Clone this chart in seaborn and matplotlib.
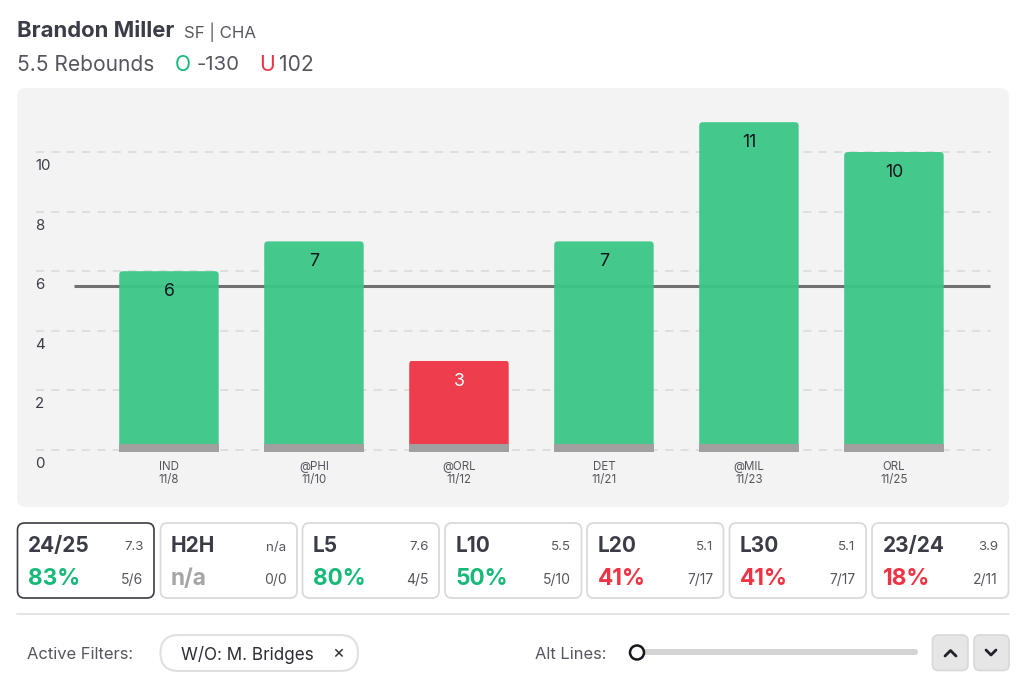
import pandas as pd
import matplotlib
matplotlib.use('Agg')
import matplotlib.pyplot as plt
import seaborn as sns
from matplotlib.patches import FancyBboxPatch, Circle

games = ['IND\n11/8', '@PHI\n11/10', '@ORL\n11/12', 'DET\n11/21', '@MIL\n11/23', 'ORL\n11/25']
rebounds = [6, 7, 3, 7, 11, 10]
prop_line = 5.5
y_ticks = [0, 2, 4, 6, 8, 10]

card_names = ['24/25', 'H2H', 'L5', 'L10', 'L20', 'L30', '23/24']
card_avgs = ['7.3', 'n/a', '7.6', '5.5', '5.1', '5.1', '3.9']
card_pcts = ['83%', 'n/a', '80%', '50%', '41%', '41%', '18%']
card_hits = ['5/6', '0/0', '4/5', '5/10', '7/17', '7/17', '2/11']

DARK = '#3b3c46'
MID = '#55565e'
GREEN = '#3cc687'
RED = '#ee3444'
GREEN_TEXT = '#17b978'

sns.set_theme(style='white')
plt.rcParams['font.family'] = ['Inter', 'DejaVu Sans']

W, H = 1024, 685
fig = plt.figure(figsize=(W / 100, H / 100), dpi=100, facecolor='white')

# page layer, in pixels
ui = fig.add_axes([0, 0, 1, 1], zorder=0)
ui.set_xlim(0, W)
ui.set_ylim(H, 0)
ui.axis('off')


def rbox(x0, y0, x1, y1, r, fc, ec='none', lw=1.5):
    ui.add_patch(FancyBboxPatch((x0 + r, y0 + r), x1 - x0 - 2 * r, y1 - y0 - 2 * r,
                                boxstyle=f'round,pad={r},rounding_size={r}',
                                fc=fc, ec=ec, lw=lw))


ui.text(17, 31, 'Brandon Miller', fontsize=15.9, fontweight='bold', color=DARK, va='center')
ui.text(184, 32, 'SF | CHA', fontsize=12.1, color=MID, va='center')
ui.text(17, 64.5, '5.5 Rebounds', fontsize=15.1, color=MID, va='center')
ui.text(175, 64.5, 'O', fontsize=15.1, color=GREEN_TEXT, va='center')
ui.text(197, 64.5, '-130', fontsize=14.7, color=MID, va='center')
ui.text(259, 64.5, 'U', fontsize=15.1, color=RED, va='center')
ui.text(279, 64.5, '102', fontsize=15.1, color=MID, va='center')

rbox(17, 88, 1009, 507, 9, '#f3f3f3')

# stat cards
card_left = [17.5, 160.5, 302.5, 445, 587, 729.5, 872]
for i, name in enumerate(card_names):
    x0 = card_left[i]
    x1 = x0 + 136.5
    if i == 0:
        rbox(x0, 523, x1, 598, 7, 'white', ec='#3b3c46', lw=1.2)
    else:
        rbox(x0, 523, x1, 598, 7, 'white', ec='#dadada', lw=1.3)
    pct = card_pcts[i]
    if pct == 'n/a':
        c = '#a6a6a6'
    elif int(pct[:-1]) >= 50:
        c = GREEN_TEXT
    else:
        c = RED
    ui.text(x0 + 10.5, 546, name, fontsize=15, fontweight='bold', color=DARK, va='center')
    ui.text(x0 + 10.5, 579, pct, fontsize=16.3, fontweight='bold', color=c, va='center')
    ui.text(x1 - 10.5, 547.5, card_avgs[i], fontsize=9.6, color=MID, va='center', ha='right')
    ui.text(x1 - 10.5, 580, card_hits[i], fontsize=10, color=MID, va='center', ha='right')

ui.plot([17, 1009], [613.5, 613.5], color='#e2e2e2', lw=1.3)

# filter row
ui.text(27, 654.5, 'Active Filters:', fontsize=11.9, color=MID, va='center')
rbox(160.5, 635, 358, 671, 18, 'white', ec='#e0e0e0', lw=1.5)
ui.text(181, 654.5, 'W/O: M. Bridges', fontsize=12.3, color='#2c2d35', va='center')
ui.text(338, 653, '×', fontsize=13, color='#2c2d35', va='center', ha='center')
ui.text(535, 654.5, 'Alt Lines:', fontsize=11.9, color=MID, va='center')
rbox(640, 649, 918, 655, 3, '#d4d4d4')
ui.add_patch(Circle((637, 652.5), 7, fc='white', ec='#17181f', lw=1.8, zorder=4))
rbox(932.5, 635, 968, 670.5, 6, '#e6e6e6', ec='#d8d8d8', lw=1.2)
rbox(974, 635, 1009, 670.5, 6, '#e6e6e6', ec='#d8d8d8', lw=1.2)
ui.plot([945, 950.5, 956], [656, 650.5, 656], color='#22232a', lw=2)
ui.plot([986, 991, 996], [650, 655, 650], color='#22232a', lw=2)

# chart layer: 0 sits at pixel 450, 29.8 px per rebound, 145 px per game
ax = fig.add_axes([36 / W, 1 - 460 / H, 954.5 / W, 340 / H], zorder=1)
ax.patch.set_alpha(0)

df = pd.DataFrame({'game': games, 'rebounds': rebounds})
df['result'] = ['over' if r > prop_line else 'under' for r in df['rebounds']]
df['base'] = 0.27

sns.barplot(data=df, x='game', y='rebounds', hue='result', dodge=False, width=0.686, saturation=1,
            palette={'over': GREEN, 'under': RED}, legend=False, ax=ax, zorder=3, linewidth=0,
            alpha=0.95)
n_main = len(ax.patches)
sns.barplot(data=df, x='game', y='base', color='#a0a0a0', saturation=1, width=0.686,
            bottom=-0.07, ax=ax, zorder=4, linewidth=0)

ax.set_xlim(-0.917, 5.666)
ax.set_ylim(-10 / 29.8, 330 / 29.8)

# rounded top corners on the bars
px_y = 29.8
for bar in ax.patches[:n_main]:
    if bar.get_height() == 0 or pd.isna(bar.get_height()):
        continue
    clip = FancyBboxPatch((bar.get_x(), bar.get_y() - 1), bar.get_width(), bar.get_height() + 1,
                          boxstyle='round,pad=0,rounding_size=0.025',
                          mutation_aspect=145 / px_y, transform=ax.transData, fc='none', ec='none')
    ax.add_patch(clip)
    bar.set_clip_path(clip)

ax.set_yticks(y_ticks)
ax.set_yticklabels([])
ax.yaxis.grid(True, color='#dcdcdc', linestyle=(0, (4.5, 4)), linewidth=1.3, zorder=1)
ax.tick_params(axis='both', length=0, pad=0)
ax.set_xlabel('')
ax.set_ylabel('')
ax.set_xticks(range(len(games)))
ax.set_xticklabels([])
sns.despine(ax=ax, left=True, bottom=True)

# y labels hang under their grid line
for t in y_ticks:
    ax.annotate(str(t), (0, t), xycoords=('axes fraction', 'data'), xytext=(-1, -14),
                textcoords='offset pixels', fontsize=10.8, color=DARK, va='center', ha='left')

# game labels under the bars
for i, g in enumerate(games):
    ax.annotate(g, (i, 0), xytext=(0, -23.5), textcoords='offset pixels', fontsize=8.3,
                color=MID, va='center', ha='center', linespacing=1.2, annotation_clip=False)

# value labels inside the bars
for i, r in enumerate(rebounds):
    ax.annotate(str(r), (i, r), xytext=(0, -20.5), textcoords='offset pixels', fontsize=12.8,
                color='white' if r < prop_line else '#16171c', va='center', ha='center', zorder=6)

ax.plot([-0.655, 5.66], [prop_line, prop_line], color='#707070', lw=2.2, zorder=2,
        solid_capstyle='butt')

fig.savefig('out.png', dpi=100, facecolor='white')
